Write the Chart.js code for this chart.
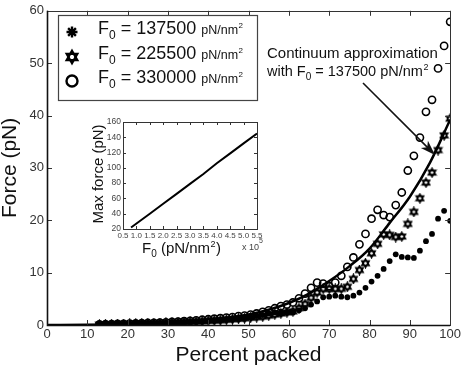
<!DOCTYPE html>
<html>
<head>
<meta charset="utf-8">
<script src="https://cdn.jsdelivr.net/npm/chart.js@4.4.1/dist/chart.umd.min.js"></script>
<style>
html,body{margin:0;padding:0;background:#fff;}
#wrap{position:relative;width:463px;height:369px;overflow:hidden;}
#main{position:absolute;left:0;top:0;}
#inset{position:absolute;left:88px;top:112px;}
</style>
</head>
<body>
<div id="wrap">
<canvas id="main" width="463" height="369"></canvas>
<canvas id="inset" width="180" height="150"></canvas>
</div>
<script>
// percent packed, same for the three simulated series
var PACKED = [13,14.5,16,17.5,19,20.5,22,23.5,25,26.5,
  28,29.5,31,32.5,34,35.5,37,38.5,40,41.5,
  43,44.5,46,47.5,49,50.5,52,53.5,55,56.5,
  58,59.5,61,62.5,64,65.5,67,68.5,70,71.5,
  73,74.5,76,77.5,79,80.5,82,83.5,85,86.5,
  88,89.5,91,92.5,94,95.5,97,98.5,100];

var FORCE_137500 = [0.1,0.12,0.15,0.18,0.2,0.22,0.25,0.28,0.3,0.33,
  0.36,0.4,0.43,0.47,0.5,0.55,0.6,0.65,0.7,0.8,
  0.9,1.0,1.05,1.1,1.2,1.4,1.7,1.9,2.2,2.4,
  2.4,2.4,2.4,2.8,3.2,3.9,4.5,5.3,5.4,5.6,
  5.4,5.3,5.6,6.2,7.1,8.3,9.4,10.7,12.2,13.5,
  13.0,12.9,12.8,14.2,16.0,17.4,20.3,21.8,19.9];

var FORCE_225500 = [0.08,0.1,0.12,0.15,0.18,0.2,0.24,0.27,0.3,0.33,
  0.37,0.4,0.45,0.5,0.55,0.6,0.65,0.7,0.8,0.85,
  0.9,1.0,1.1,1.2,1.3,1.4,1.5,1.6,1.8,2.0,
  2.2,2.4,2.6,3.2,4.0,5.2,6.2,6.9,6.9,6.9,
  6.9,7.3,8.8,10.5,11.8,13.7,15.5,17.3,17.2,16.8,
  16.9,19.3,21.6,24.2,27.2,29.1,33.4,36.2,39.4];

var FORCE_330000 = [0.12,0.14,0.17,0.2,0.23,0.26,0.3,0.34,0.38,0.42,
  0.47,0.52,0.58,0.65,0.72,0.8,0.9,1.0,1.1,1.2,
  1.3,1.4,1.5,1.7,1.8,2.0,2.2,2.5,2.8,3.2,
  3.6,3.9,4.3,5.1,6.0,7.1,8.1,7.9,7.4,8.1,
  9.4,11.1,12.9,15.4,17.4,20.3,22.0,21.0,20.6,22.9,
  25.3,29.5,32.3,35.8,40.7,43.0,49.0,53.3,57.9];

// continuum approximation, F0 = 137500
var CONT_X = [0,10,20,30,40,50,55,60,65,70,75,80,85,90,95,100];
var CONT_Y = [0,0.05,0.2,0.5,1.0,2.0,2.9,4.2,6.0,8.4,11.2,14.6,19.5,24.5,31.0,39.2];

// inset: max force vs F0 (x 10^5)
var INSET_F0 = [0.8,1.5,2,2.5,3,3.5,4,4.5,5,5.5];
var INSET_MAX = [22,40,53,66,79,92,106,119,132,145];

var X_TICKS = [0,10,20,30,40,50,60,70,80,90,100];
var Y_TICKS = [0,10,20,30,40,50,60];
var INSET_X_TICKS = [0.5,1,1.5,2,2.5,3,3.5,4,4.5,5,5.5];
var INSET_Y_TICKS = [20,40,60,80,100,120,140,160];

var LEGEND_F0 = ['137500','225500','330000'];

var FONT = "'Liberation Sans', Arial, Helvetica, sans-serif";

function pts(xs, ys){
  return xs.map(function(x,i){ return {x:x, y:ys[i]}; });
}

function drawAsterisk(g,x,y,r){
  g.beginPath();
  for(var k=0;k<4;k++){
    var a=k*Math.PI/4;
    g.moveTo(x-r*Math.cos(a),y-r*Math.sin(a));
    g.lineTo(x+r*Math.cos(a),y+r*Math.sin(a));
  }
  g.stroke();
}
function drawHexagram(g,x,y,r){
  for(var t=0;t<2;t++){
    g.beginPath();
    for(var k=0;k<3;k++){
      var a=(t==0?-Math.PI/2:Math.PI/2)+k*2*Math.PI/3;
      var px=x+r*Math.cos(a), py=y+r*Math.sin(a);
      if(k==0) g.moveTo(px,py); else g.lineTo(px,py);
    }
    g.closePath();
    g.stroke();
  }
}
function makeHexagram(size,r){
  var c=document.createElement('canvas');
  c.width=c.height=size;
  var g=c.getContext('2d');
  g.strokeStyle='#000'; g.lineWidth=1.6;
  drawHexagram(g,size/2,size/2,r);
  return c;
}

// draws "F" + sub 0 + rest (+ sup 2), returns end x
function drawF0(g,x,y,size,rest,sup){
  g.font=size+'px '+FONT;
  g.fillText('F',x,y);
  x+=g.measureText('F').width;
  var sub=Math.round(size*0.68);
  g.font=sub+'px '+FONT;
  g.fillText('0',x,y+size*0.28);
  x+=g.measureText('0').width;
  g.font=size+'px '+FONT;
  g.fillText(rest,x,y);
  x+=g.measureText(rest).width;
  if(sup){
    g.font=Math.round(size*0.62)+'px '+FONT;
    g.fillText('2',x+0.5,y-size*0.42);
    x+=g.measureText('2').width+1;
  }
  return x;
}

var mainDeco = {
  id:'mainDeco',
  afterDraw:function(chart){
    var g=chart.ctx, a=chart.chartArea, xs=chart.scales.x, ys=chart.scales.y;
    g.save();
    // frame and inward ticks
    g.strokeStyle='#333'; g.lineWidth=1;
    g.strokeRect(Math.round(a.left)+0.5,Math.round(a.top)+0.5,Math.round(a.right-a.left),Math.round(a.bottom-a.top));
    g.beginPath();
    X_TICKS.forEach(function(v){
      var px=Math.round(xs.getPixelForValue(v))+0.5;
      g.moveTo(px,a.bottom); g.lineTo(px,a.bottom-5);
      g.moveTo(px,a.top); g.lineTo(px,a.top+5);
    });
    Y_TICKS.forEach(function(v){
      var py=Math.round(ys.getPixelForValue(v))+0.5;
      g.moveTo(a.left,py); g.lineTo(a.left+5,py);
      g.moveTo(a.right,py); g.lineTo(a.right-5,py);
    });
    g.stroke();
    g.lineWidth=1.6; g.strokeStyle='#111';
    g.beginPath();
    g.moveTo(a.left+0.5,a.top); g.lineTo(a.left+0.5,a.bottom+0.5); g.lineTo(a.right,a.bottom+0.5);
    g.stroke();

    // legend box
    g.fillStyle='#fff'; g.strokeStyle='#444'; g.lineWidth=1.2;
    g.fillRect(58,15,199,85);
    g.strokeRect(58.5,15.5,199,85);
    var rows=[34,59,83], mk=[32,57,81];
    g.fillStyle='#111'; g.strokeStyle='#000'; g.textBaseline='alphabetic'; g.textAlign='left';
    g.lineWidth=2.4; drawAsterisk(g,72,mk[0],5.5);
    g.lineWidth=2.2; drawHexagram(g,72,mk[1],6.2);
    g.lineWidth=2.4; g.beginPath(); g.arc(72,mk[2],5.5,0,Math.PI*2); g.stroke();
    for(var i=0;i<3;i++){
      var ex=drawF0(g,98,rows[i],18,' = '+LEGEND_F0[i]+' ',false);
      g.font='12.5px '+FONT;
      g.fillText('pN/nm',ex,rows[i]);
      var w=g.measureText('pN/nm').width;
      g.font='8px '+FONT;
      g.fillText('2',ex+w+0.5,rows[i]-6);
    }

    // annotation
    g.fillStyle='#111';
    g.font='15px '+FONT;
    g.fillText('Continuum approximation',267,58);
    g.font='14.5px '+FONT;
    var wx=g.measureText('with ').width;
    g.fillText('with ',267,76);
    drawF0(g,267+wx,76,14.5,' = 137500 pN/nm',true);
    // arrow
    var x0=363,y0=83,x1=435,y1=155;
    var ang=Math.atan2(y1-y0,x1-x0);
    g.strokeStyle='#111'; g.lineWidth=1.6;
    g.beginPath(); g.moveTo(x0,y0); g.lineTo(x1-10*Math.cos(ang),y1-10*Math.sin(ang)); g.stroke();
    g.beginPath();
    g.moveTo(x1,y1);
    g.lineTo(x1-15*Math.cos(ang)+5*Math.sin(ang),y1-15*Math.sin(ang)-5*Math.cos(ang));
    g.lineTo(x1-11*Math.cos(ang),y1-11*Math.sin(ang));
    g.lineTo(x1-15*Math.cos(ang)-5*Math.sin(ang),y1-15*Math.sin(ang)+5*Math.cos(ang));
    g.closePath(); g.fill();
    g.restore();
  }
};

var tickFont={family:FONT,size:13};

new Chart(document.getElementById('main'),{
  type:'scatter',
  data:{
    datasets:[
      {label:'continuum',data:pts(CONT_X,CONT_Y),showLine:true,borderColor:'#000',borderWidth:2.5,pointRadius:0,cubicInterpolationMode:'monotone'},
      {label:'F0 = 137500',data:pts(PACKED,FORCE_137500),pointStyle:'circle',pointRadius:2.9,backgroundColor:'#000',borderColor:'#000',borderWidth:0},
      {label:'F0 = 225500',data:pts(PACKED,FORCE_225500),pointStyle:makeHexagram(11,4.2),pointRadius:4},
      {label:'F0 = 330000',data:pts(PACKED,FORCE_330000),pointStyle:'circle',pointRadius:3.6,backgroundColor:'rgba(0,0,0,0)',borderColor:'#000',borderWidth:1.6}
    ]
  },
  options:{
    responsive:false,animation:false,
    layout:{padding:{top:5,right:5,left:0,bottom:0}},
    plugins:{legend:{display:false},tooltip:{enabled:false}},
    scales:{
      x:{type:'linear',min:0,max:100,
        afterBuildTicks:function(s){ s.ticks=X_TICKS.map(function(v){return {value:v};}); },
        ticks:{padding:2,color:'#333',font:tickFont,maxRotation:0},
        grid:{display:false,drawTicks:false},border:{display:false},
        title:{display:true,text:'Percent packed',color:'#111',font:{family:FONT,size:21,lineHeight:1},padding:{top:0,bottom:3}},
        afterFit:function(s){ s.height=44; }
      },
      y:{type:'linear',min:0,max:60,
        afterBuildTicks:function(s){ s.ticks=Y_TICKS.map(function(v){return {value:v};}); },
        ticks:{padding:3,color:'#333',font:tickFont},
        grid:{display:false,drawTicks:false},border:{display:false},
        title:{display:true,text:'Force (pN)',color:'#111',font:{family:FONT,size:21,lineHeight:1},padding:{top:0,bottom:0}},
        afterFit:function(s){ s.width=47; }
      }
    }
  },
  plugins:[mainDeco]
});

var insetDeco = {
  id:'insetDeco',
  afterDraw:function(chart){
    var g=chart.ctx, a=chart.chartArea, xs=chart.scales.x, ys=chart.scales.y;
    g.save();
    g.strokeStyle='#333'; g.lineWidth=1;
    g.strokeRect(Math.round(a.left)+0.5,Math.round(a.top)+0.5,Math.round(a.right-a.left),Math.round(a.bottom-a.top));
    g.beginPath();
    INSET_X_TICKS.forEach(function(v){
      var px=Math.round(xs.getPixelForValue(v))+0.5;
      g.moveTo(px,a.bottom); g.lineTo(px,a.bottom-3);
      g.moveTo(px,a.top); g.lineTo(px,a.top+3);
    });
    INSET_Y_TICKS.forEach(function(v){
      var py=Math.round(ys.getPixelForValue(v))+0.5;
      g.moveTo(a.left,py); g.lineTo(a.left+3,py);
      g.moveTo(a.right,py); g.lineTo(a.right-3,py);
    });
    g.stroke();
    // titles
    g.fillStyle='#111'; g.textAlign='center'; g.textBaseline='middle';
    g.save();
    g.translate(11,62); g.rotate(-Math.PI/2);
    g.font='15px '+FONT;
    g.fillText('Max force (pN)',0,0);
    g.restore();
    g.textAlign='left'; g.textBaseline='alphabetic';
    var ex=drawF0(g,54,141,15,' (pN/nm',true);
    g.font='15px '+FONT;
    g.fillText(')',ex,141);
    g.font='9px '+FONT; g.fillStyle='#444';
    g.fillText('x 10',154,138);
    g.font='7px '+FONT;
    g.fillText('5',171,131);
    g.restore();
  }
};

new Chart(document.getElementById('inset'),{
  type:'scatter',
  data:{datasets:[{data:pts(INSET_F0,INSET_MAX),showLine:true,borderColor:'#000',borderWidth:2,pointRadius:0}]},
  options:{
    responsive:false,animation:false,
    layout:{padding:{top:10,right:11,left:0,bottom:0}},
    plugins:{legend:{display:false},tooltip:{enabled:false}},
    scales:{
      x:{type:'linear',min:0.5,max:5.5,
        afterBuildTicks:function(s){ s.ticks=INSET_X_TICKS.map(function(v){return {value:v};}); },
        ticks:{padding:2,color:'#444',font:{family:FONT,size:8},maxRotation:0,autoSkip:false},
        grid:{display:false,drawTicks:false},border:{display:false},
        afterFit:function(s){ s.height=33; }
      },
      y:{type:'linear',min:20,max:160,
        afterBuildTicks:function(s){ s.ticks=INSET_Y_TICKS.map(function(v){return {value:v};}); },
        ticks:{padding:2,color:'#444',font:{family:FONT,size:8.5},autoSkip:false},
        grid:{display:false,drawTicks:false},border:{display:false},
        afterFit:function(s){ s.width=35; }
      }
    }
  },
  plugins:[insetDeco]
});
</script>
</body>
</html>
